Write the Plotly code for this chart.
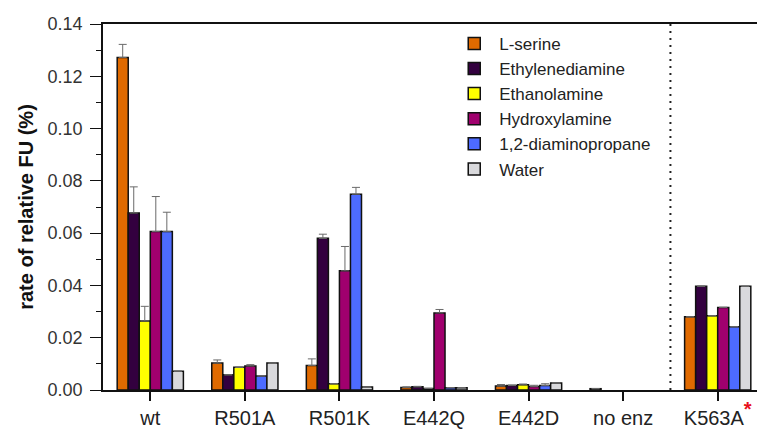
import plotly.graph_objects as go

categories = ["wt", "R501A", "R501K", "E442Q", "E442D", "no enz", "K563A"]
tick_labels = ["wt", "R501A", "R501K", "E442Q", "E442D", "no enz",
               "K563A<sup><b><span style='color:#e8101c;font-size:20px'>*</span></b></sup>"]

series_names = ["L-serine", "Ethylenediamine", "Ethanolamine", "Hydroxylamine",
                "1,2-diaminopropane", "Water"]
series_colors = ["#e06a00", "#33003f", "#ffff00", "#a0006e", "#4d6bff", "#d9d9dc"]

l_serine = [0.1272, 0.0103, 0.0094, 0.0010, 0.0015, 0.0005, 0.0280]
ethylenediamine = [0.0677, 0.0058, 0.0580, 0.0012, 0.0017, None, 0.0397]
ethanolamine = [0.0264, 0.0087, 0.0024, 0.0006, 0.0020, None, 0.0284]
hydroxylamine = [0.0606, 0.0092, 0.0456, 0.0295, 0.0013, None, 0.0316]
diaminopropane = [0.0606, 0.0054, 0.0749, 0.0009, 0.0017, None, 0.0242]
water = [0.0072, 0.0103, 0.0011, 0.0009, 0.0027, None, 0.0397]

l_serine_err = [0.0050, 0.0012, 0.0025, 0.0002, 0.0006, 0, 0]
ethylenediamine_err = [0.0100, 0, 0.0016, 0.0002, 0.0002, 0, 0]
ethanolamine_err = [0.0056, 0, 0, 0, 0.0003, 0, 0]
hydroxylamine_err = [0.0134, 0.0005, 0.0093, 0.0013, 0.0005, 0, 0]
diaminopropane_err = [0.0074, 0, 0.0026, 0, 0.0007, 0, 0]
water_err = [0, 0, 0, 0, 0, 0, 0]

values = [l_serine, ethylenediamine, ethanolamine, hydroxylamine, diaminopropane, water]
errors = [l_serine_err, ethylenediamine_err, ethanolamine_err, hydroxylamine_err,
          diaminopropane_err, water_err]

font_family = "Arial, Liberation Sans, Helvetica, sans-serif"

fig = go.Figure()
for name, color, vals, errs in zip(series_names, series_colors, values, errors):
    fig.add_trace(go.Bar(
        name=name, x=categories, y=vals,
        marker=dict(color=color, line=dict(color="#111111", width=1.5)),
        error_y=dict(type="data", array=errs, arrayminus=[0] * len(errs),
                     symmetric=False, color="#6a6a6a", thickness=1, width=4),
    ))

fig.add_shape(type="line", xref="x", yref="paper", x0=5.5, x1=5.5, y0=0, y1=1,
              line=dict(color="#222222", width=2, dash="2px,5px"))

# page body has an 8px margin, so the figure is sized/offset to compensate
fig.update_layout(
    width=757, height=421,
    margin=dict(l=95, r=0, t=16, b=37),
    paper_bgcolor="white", plot_bgcolor="white",
    barmode="group", bargap=0.3, bargroupgap=0,
    font=dict(family=font_family, color="#222222"),
    showlegend=True,
    legend=dict(x=0.523, y=0.995, xanchor="left", yanchor="top",
                font=dict(size=17, family=font_family, color="#222222"),
                bgcolor="rgba(0,0,0,0)", tracegroupgap=0, itemwidth=40),
    xaxis=dict(
        range=[-0.5, 6.5], tickmode="array", tickvals=categories, ticktext=tick_labels,
        showline=True, linecolor="#111111", linewidth=1.5, mirror=True,
        ticks="outside", ticklen=9, tickwidth=1.5, tickcolor="#111111",
        tickfont=dict(size=20, family=font_family, color="#222222"),
        showgrid=False, zeroline=False,
    ),
    yaxis=dict(
        range=[0, 0.14], tickmode="linear", tick0=0, dtick=0.02, tickformat=".2f",
        showline=True, linecolor="#111111", linewidth=1.5,
        ticks="outside", ticklen=11, tickwidth=1.2, tickcolor="#111111",
        ticklabelstandoff=4,
        minor=dict(ticks="outside", ticklen=5, dtick=0.01, tickcolor="#111111", tickwidth=1),
        tickfont=dict(size=18, family=font_family, color="#333333"),
        showgrid=False, zeroline=False,
        title=dict(text="<b>rate of relative FU (%)</b>", standoff=9,
                   font=dict(size=20, family=font_family, color="#111111")),
    ),
)

fig.write_html("out.html")
